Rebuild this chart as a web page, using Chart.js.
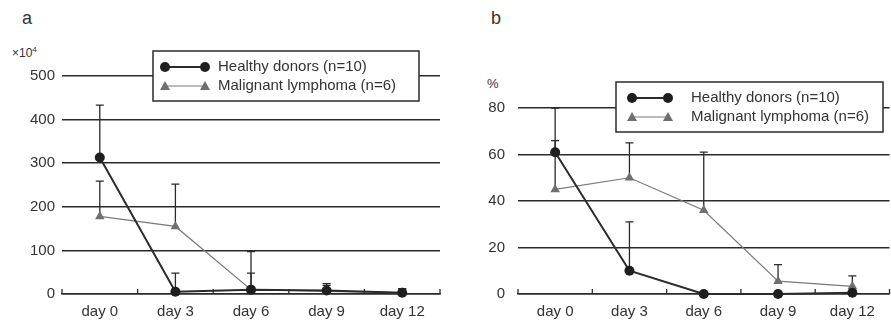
<!DOCTYPE html>
<html>
<head>
<meta charset="utf-8">
<script src="https://cdn.jsdelivr.net/npm/chart.js@4/dist/chart.umd.min.js"></script>
<style>
  html, body { margin: 0; padding: 0; background: #fff; }
  body { width: 891px; height: 321px; position: relative; overflow: hidden; font-family: "Liberation Sans", Arial, sans-serif; color: #333; }
  .panel { position: absolute; top: 0; height: 321px; }
  #wrapA { left: 0; width: 450px; }
  #wrapB { left: 450px; width: 445px; }
  .lbl { position: absolute; color: #333; line-height: 1; }
</style>
</head>
<body>
<div class="lbl" style="left:22px; top:9px; font-size:18px;">a</div>
<div class="lbl" style="left:12px; top:46px; font-size:12px;">×10<sup style="font-size:8px; vertical-align:5px;">4</sup></div>
<div class="lbl" style="left:491px; top:9px; font-size:18px;">b</div>
<div class="lbl" style="left:487px; top:77px; font-size:13px;">%</div>
<div class="panel" id="wrapA"><canvas id="chartA" width="450" height="321"></canvas></div>
<div class="panel" id="wrapB"><canvas id="chartB" width="445" height="321"></canvas></div>
<script>
    // shared categories
    const days = ['day 0', 'day 3', 'day 6', 'day 9', 'day 12'];

    // panel a: cell count (x10^4)
    const healthyA = [313, 5, 10, 8, 3];
    const healthyAErr = [433, 48, 48, 24, 12];
    const lymphomaA = [178, 155, 10, 6, 3];
    const lymphomaAErr = [259, 252, 97, 20, 12];
    const ticksA = [0, 100, 200, 300, 400, 500];

    // panel b: percentage
    const healthyB = [61, 10, 0, 0, 0.5];
    const healthyBErr = [80, 31, null, null, null];
    const lymphomaB = [45, 50, 36, 5.5, 3.3];
    const lymphomaBErr = [66, 65, 61, 12.6, 7.8];
    const ticksB = [0, 20, 40, 60, 80];

    const legendNames = ['Healthy donors (n=10)', 'Malignant lymphoma (n=6)'];

    const ink = '#2b2b2b';
    const grey = '#7a7a7a';
    const font = { family: '"Liberation Sans", Arial, sans-serif', size: 15 };

    // error bars (upper only), drawn from each dataset's errUp array
    const errorBars = {
        id: 'errorBars',
        beforeDatasetsDraw(chart) {
            const ctx = chart.ctx;
            const x = chart.scales.x, y = chart.scales.y;
            ctx.save();
            ctx.strokeStyle = ink;
            ctx.lineWidth = 1.3;
            chart.data.datasets.forEach(ds => {
                ds.errUp.forEach((e, i) => {
                    if (e === null) return;
                    const px = x.getPixelForValue(i);
                    const y0 = y.getPixelForValue(ds.data[i]);
                    const y1 = y.getPixelForValue(e);
                    ctx.beginPath();
                    ctx.moveTo(px, y0); ctx.lineTo(px, y1);
                    ctx.moveTo(px - 4, y1); ctx.lineTo(px + 4, y1);
                    ctx.stroke();
                });
            });
            ctx.restore();
        }
    };

    // category boundary ticks pointing up from the baseline
    const upTicks = {
        id: 'upTicks',
        afterDraw(chart) {
            const ctx = chart.ctx;
            const x = chart.scales.x;
            const base = chart.scales.y.getPixelForValue(0);
            ctx.save();
            ctx.strokeStyle = ink;
            ctx.lineWidth = 1.3;
            for (let i = 0; i <= days.length; i++) {
                const px = x.getPixelForValue(i - 0.5);
                ctx.beginPath();
                ctx.moveTo(px, base); ctx.lineTo(px, base - 5);
                ctx.stroke();
            }
            ctx.restore();
        }
    };

    // boxed legend
    const boxLegend = {
        id: 'boxLegend',
        afterDraw(chart, args, o) {
            const ctx = chart.ctx;
            const ds = chart.data.datasets;
            ctx.save();
            ctx.fillStyle = '#fff';
            ctx.fillRect(o.x, o.y, o.w, o.h);
            ctx.strokeStyle = ink;
            ctx.lineWidth = 1.5;
            ctx.strokeRect(o.x, o.y, o.w, o.h);
            ds.forEach((d, k) => {
                const ry = k === 0 ? o.row1 : o.row2;
                ctx.strokeStyle = d.borderColor;
                ctx.lineWidth = d.borderWidth;
                ctx.beginPath();
                ctx.moveTo(o.s1, ry); ctx.lineTo(o.s2, ry);
                ctx.stroke();
                ctx.fillStyle = d.pointBackgroundColor;
                [o.s1, o.s2].forEach(sx => {
                    ctx.beginPath();
                    if (d.pointStyle === 'circle') {
                        ctx.arc(sx, ry, 5, 0, Math.PI * 2);
                    } else {
                        ctx.moveTo(sx, ry - 5); ctx.lineTo(sx + 5, ry + 4); ctx.lineTo(sx - 5, ry + 4); ctx.closePath();
                    }
                    ctx.fill();
                });
                ctx.fillStyle = '#333';
                ctx.font = font.size + 'px ' + font.family;
                ctx.textBaseline = 'middle';
                ctx.fillText(legendNames[k], o.tx, ry);
            });
            ctx.restore();
        }
    };

    function makeChart(id, healthy, healthyErr, lymph, lymphErr, ticks, yWidth, tickPad, pad, legendBox) {
        return new Chart(document.getElementById(id), {
            type: 'line',
            data: {
                labels: days,
                datasets: [{
                    label: legendNames[0],
                    data: healthy,
                    errUp: healthyErr,
                    borderColor: ink,
                    borderWidth: 2,
                    pointStyle: 'circle',
                    pointRadius: 5,
                    pointBackgroundColor: '#1e1e1e',
                    pointBorderWidth: 0,
                    clip: false,
                    order: 1
                }, {
                    label: legendNames[1],
                    data: lymph,
                    errUp: lymphErr,
                    borderColor: grey,
                    borderWidth: 1.2,
                    pointStyle: 'triangle',
                    pointRadius: 5.5,
                    pointBackgroundColor: '#6f6f6f',
                    pointBorderWidth: 0,
                    clip: false,
                    order: 2
                }]
            },
            options: {
                responsive: false,
                animation: false,
                layout: { padding: pad },
                plugins: { legend: { display: false }, tooltip: { enabled: false }, boxLegend: legendBox },
                scales: {
                    x: {
                        offset: true,
                        grid: { display: false, drawTicks: false },
                        border: { display: true, color: ink, width: 1.5 },
                        ticks: { color: '#333', font: font, padding: 9, maxRotation: 0 },
                        afterFit(s) { s.height = 27; }
                    },
                    y: {
                        min: ticks[0],
                        max: ticks[ticks.length - 1],
                        afterBuildTicks(s) { s.ticks = ticks.map(v => ({ value: v })); },
                        grid: { color: ink, lineWidth: 1.5, drawTicks: false },
                        border: { display: false },
                        ticks: { color: '#333', font: font, padding: tickPad },
                        afterFit(s) { s.width = yWidth; }
                    }
                }
            },
            plugins: [errorBars, upTicks, boxLegend]
        });
    }

    makeChart('chartA', healthyA, healthyAErr, lymphomaA, lymphomaAErr, ticksA, 62, 7,
        { top: 76, right: 10, left: 0, bottom: 0 },
        { x: 153, y: 51, w: 266, h: 50, s1: 165, s2: 205, tx: 218, row1: 67, row2: 86 });

    makeChart('chartB', healthyB, healthyBErr, lymphomaB, lymphomaBErr, ticksB, 68, 13,
        { top: 108, right: 2, left: 0, bottom: 0 },
        { x: 166, y: 82, w: 267, h: 50, s1: 182, s2: 218, tx: 241, row1: 98, row2: 117 });
</script>
</body>
</html>
